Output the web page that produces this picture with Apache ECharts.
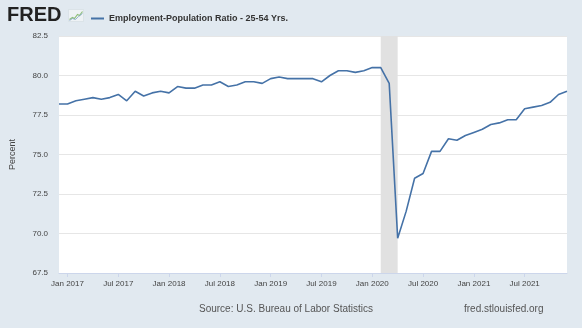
<!DOCTYPE html>
<html>
<head>
<meta charset="utf-8">
<script src="https://cdn.jsdelivr.net/npm/echarts@6/dist/echarts.min.js"></script>
<style>
html,body{margin:0;padding:0;background:#e1e9f0;}
#chart{width:582px;height:328px;}
</style>
</head>
<body>
<div id="chart"></div>
<script>
// Monthly observations Dec 2016 .. Dec 2021
const startYear = 2016, startMonth = 11; // Dec 2016
const monthNames = ['Jan','Feb','Mar','Apr','May','Jun','Jul','Aug','Sep','Oct','Nov','Dec'];
const values2016 = [78.2];
const values2017 = [78.2, 78.4, 78.5, 78.6, 78.5, 78.6, 78.8, 78.4, 79.0, 78.7, 78.9, 79.0];
const values2018 = [78.9, 79.3, 79.2, 79.2, 79.4, 79.4, 79.6, 79.3, 79.4, 79.6, 79.6, 79.5];
const values2019 = [79.8, 79.9, 79.8, 79.8, 79.8, 79.8, 79.6, 80.0, 80.3, 80.3, 80.2, 80.3];
const values2020 = [80.5, 80.5, 79.5, 69.7, 71.4, 73.5, 73.8, 75.2, 75.2, 76.0, 75.9, 76.2];
const values2021 = [76.4, 76.6, 76.9, 77.0, 77.2, 77.2, 77.9, 78.0, 78.1, 78.3, 78.8, 79.0];
const values = [].concat(values2016, values2017, values2018, values2019, values2020, values2021);
const categories = values.map((v, i) => {
  const m = (startMonth + i) % 12;
  const y = startYear + Math.floor((startMonth + i) / 12);
  return monthNames[m] + ' ' + y;
});
const recession = ['Feb 2020', 'Apr 2020'];
const seriesName = 'Employment-Population Ratio - 25-54 Yrs.';
const yTicks = { min: 67.5, max: 82.5, interval: 2.5 };

const FONT = '"Liberation Sans", Arial, sans-serif';
const chart = echarts.init(document.getElementById('chart'), null, { renderer: 'canvas' });
const isTickMonth = (idx, val) => /^(Jan|Jul) /.test(val);

chart.setOption({
  backgroundColor: '#e1e9f0',
  animation: false,
  textStyle: { fontFamily: FONT },
  grid: {
    left: 58, right: 15, top: 36, bottom: 55,
    show: true, backgroundColor: '#ffffff', borderWidth: 0
  },
  legend: {
    show: true,
    left: 86, top: 9,
    icon: 'rect', itemWidth: 13, itemHeight: 2, itemGap: 5,
    textStyle: { fontFamily: FONT, fontSize: 9, fontWeight: 'bold', color: '#333' },
    data: [seriesName]
  },
  xAxis: {
    type: 'category',
    data: categories,
    boundaryGap: false,
    axisLine: { show: true, lineStyle: { color: '#ccd6eb', width: 1 } },
    axisTick: { show: true, interval: isTickMonth, length: 4, lineStyle: { color: '#ccd6eb' } },
    axisLabel: { interval: isTickMonth, fontSize: 8, color: '#444', margin: 7, fontFamily: FONT },
    splitLine: { show: false }
  },
  yAxis: {
    type: 'value',
    min: yTicks.min, max: yTicks.max, interval: yTicks.interval,
    name: 'Percent', nameLocation: 'middle', nameRotate: 90, nameGap: 42,
    nameTextStyle: { fontSize: 9, color: '#444', fontFamily: FONT },
    axisLine: { show: false },
    axisTick: { show: false },
    axisLabel: { fontSize: 8, color: '#444', margin: 11, fontFamily: FONT,
      formatter: v => v.toFixed(1) },
    splitLine: { show: true, lineStyle: { color: '#e6e6e6', width: 1 } }
  },
  series: [{
    name: seriesName,
    type: 'line',
    data: values,
    symbol: 'none',
    color: '#4572a7',
    lineStyle: { color: '#4572a7', width: 1.6 },
    markArea: {
      silent: true,
      itemStyle: { color: '#e1e1e1' },
      data: [[{ xAxis: recession[0] }, { xAxis: recession[1] }]]
    }
  }],
  graphic: [
    { type: 'text', left: 7, top: 5,
      style: { text: 'FRED', font: 'bold 20px ' + FONT, fill: '#222' } },
    { type: 'group', left: 67, top: 9, children: [
      { type: 'rect', shape: { x: 0, y: 0, width: 15, height: 12 }, style: { fill: '#eef2f5', stroke: '#cfd8de', lineWidth: 0.5 } },
      { type: 'polyline', shape: { points: [[1,10],[4,8],[6,9],[9,5],[11,6],[14,2]] }, style: { stroke: '#8fbf7a', lineWidth: 1.2, fill: null } },
      { type: 'polyline', shape: { points: [[1,11],[4,9],[7,10],[10,7],[14,4]] }, style: { stroke: '#7fa3c8', lineWidth: 0.8, fill: null } }
    ]},
    { type: 'text', left: 199, top: 304,
      style: { text: 'Source: U.S. Bureau of Labor Statistics', font: '10px ' + FONT, fill: '#555' } },
    { type: 'text', left: 464, top: 304,
      style: { text: 'fred.stlouisfed.org', font: '10px ' + FONT, fill: '#555' } }
  ]
});
</script>
</body>
</html>
